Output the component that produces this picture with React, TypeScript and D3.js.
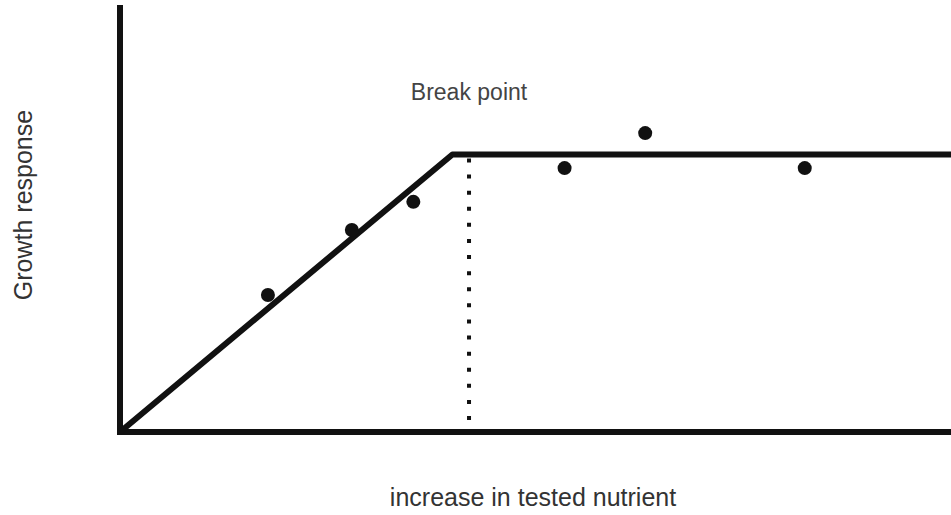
import { scaleLinear, line as d3line } from "d3";

// Break-point curve (arbitrary units, 0-100 on both axes)
const curveX = [0, 40, 100];
const curveY = [0, 65, 65];

// Observed growth responses
const pointX = [17.8, 27.9, 35.3, 53.5, 63.2, 82.4];
const pointY = [32.1, 47.3, 53.9, 61.8, 70.0, 61.8];

const breakPointX = 42;
const breakLabel = "Break point";
const xLabel = "increase in tested nutrient";
const yLabel = "Growth response";

const W = 951;
const H = 515;

export default function App() {
  let xScale = scaleLinear().domain([0, 100]).range([120, 951]);
  let yScale = scaleLinear().domain([0, 100]).range([432, 5]);

  let curve = d3line<number>()
    .x((d) => xScale(d))
    .y((_, i) => yScale(curveY[i]));

  const d = curve(curveX) ?? undefined;
  const plateau = yScale(curveY[curveY.length - 1]);

  return (
    <svg
      width={W}
      height={H}
      style={{ position: "absolute", left: 0, top: 0, display: "block", background: "#fff" }}
      fontFamily="'Liberation Sans', Arial, sans-serif"
    >
      {/* axes */}
      <line x1={xScale(0)} y1={yScale(0) + 3} x2={xScale(0)} y2={yScale(100)} stroke="#111" strokeWidth={6} />
      <line x1={xScale(0) - 3} y1={yScale(0)} x2={xScale(100)} y2={yScale(0)} stroke="#111" strokeWidth={6} />

      {/* break point marker */}
      <line
        x1={xScale(breakPointX)}
        y1={plateau + 4}
        x2={xScale(breakPointX)}
        y2={yScale(0) - 11}
        stroke="#111"
        strokeWidth={4}
        strokeDasharray="4 12.1"
      />

      {/* response curve */}
      <path d={d} fill="none" stroke="#111" strokeWidth={6} strokeLinejoin="round" />

      {/* observations */}
      {pointX.map((px, i) => (
        <circle key={i} cx={xScale(px)} cy={yScale(pointY[i])} r={7} fill="#111" />
      ))}

      {/* labels */}
      <text x={xScale(breakPointX)} y={100} textAnchor="middle" fontSize={23} fill="#444">
        {breakLabel}
      </text>
      <text x={533} y={506} textAnchor="middle" fontSize={25} fill="#333">
        {xLabel}
      </text>
      <text
        transform={`translate(32,205) rotate(-90)`}
        textAnchor="middle"
        fontSize={25}
        fill="#333"
      >
        {yLabel}
      </text>
    </svg>
  );
}
